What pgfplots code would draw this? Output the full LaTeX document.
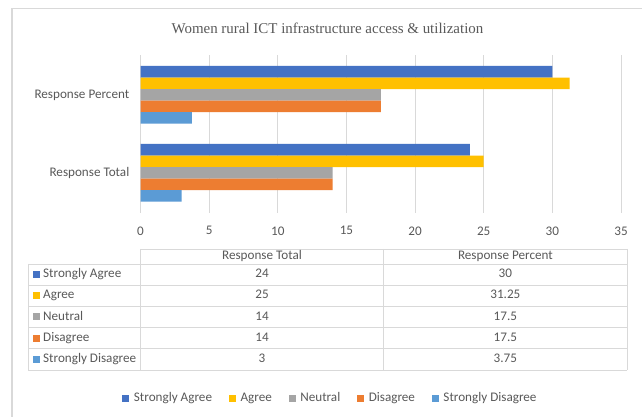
\documentclass[border=0pt]{standalone}
\usepackage{fontspec}
\setmainfont{Carlito}
\newfontfamily\titlefont{Liberation Serif}
\usepackage{pgfplots}
\pgfplotsset{compat=1.18}
\definecolor{cSA}{HTML}{4472C4}
\definecolor{cA}{HTML}{FFC000}
\definecolor{cN}{HTML}{A5A5A5}
\definecolor{cD}{HTML}{ED7D31}
\definecolor{cSD}{HTML}{5B9BD5}
\definecolor{txt}{HTML}{595959}
\definecolor{gridc}{HTML}{D9D9D9}
\begin{document}
\begin{tikzpicture}
\useasboundingbox (0bp,0bp) rectangle (642bp,417bp);
\begin{scope}[x=1bp,y=1bp]
\fill[white] (0,0) rectangle (642,417);
\draw[gridc, line width=1.2bp] (12,0) -- (12,408.5) -- (642,408.5);
\node[font=\titlefont\fontsize{15}{17}\selectfont, text=txt] at (327.5,389) {Women rural ICT infrastructure access \& utilization};
\end{scope}
\begin{axis}[
  at={(140.5bp,204bp)}, anchor=south west,
  scale only axis, width=480.5bp, height=158bp,
  xmin=0, xmax=35, ymin=-0.515, ymax=1.511,
  xtick={0,5,...,35},
  ytick={0,1}, yticklabels={Response Total, Response Percent},
  xmajorgrids, grid style={gridc, line width=0.8bp},
  axis line style={draw=none}, tick style={draw=none},
  ticklabel style={font=\fontsize{13.2}{15}\selectfont, text=txt},
  /pgf/number format/assume math mode=true,
  xticklabel style={anchor=north, yshift=-10bp},
  yticklabel style={anchor=east, xshift=-7.7bp},
  legend style={at={(0.3954,-1.171)}, anchor=center, draw=none, fill=none,
    font=\fontsize{13.2}{15}\selectfont, text=txt, legend columns=5,
    /tikz/every odd column/.append style={column sep=2.5bp},
    /tikz/every even column/.append style={column sep=15bp},
    inner sep=0pt},
  legend cell align=left,
]
\addplot[xbar, bar width=11.54bp, bar shift=23.08bp, fill=cSA, draw=none,
  legend image code/.code={\fill[cSA] (0bp,-3.5bp) rectangle (7bp,3.5bp);}]
  coordinates {(24,0) (30,1)};
\addlegendentry{Strongly Agree}
\addplot[xbar, bar width=11.54bp, bar shift=11.54bp, fill=cA, draw=none,
  legend image code/.code={\fill[cA] (0bp,-3.5bp) rectangle (7bp,3.5bp);}]
  coordinates {(25,0) (31.25,1)};
\addlegendentry{Agree}
\addplot[xbar, bar width=11.54bp, bar shift=0bp, fill=cN, draw=none,
  legend image code/.code={\fill[cN] (0bp,-3.5bp) rectangle (7bp,3.5bp);}]
  coordinates {(14,0) (17.5,1)};
\addlegendentry{Neutral}
\addplot[xbar, bar width=11.54bp, bar shift=-11.54bp, fill=cD, draw=none,
  legend image code/.code={\fill[cD] (0bp,-3.5bp) rectangle (7bp,3.5bp);}]
  coordinates {(14,0) (17.5,1)};
\addlegendentry{Disagree}
\addplot[xbar, bar width=11.54bp, bar shift=-23.08bp, fill=cSD, draw=none,
  legend image code/.code={\fill[cSD] (0bp,-3.5bp) rectangle (7bp,3.5bp);}]
  coordinates {(3,0) (3.75,1)};
\addlegendentry{Strongly Disagree}
\end{axis}
% data table
\begin{scope}[x=1bp,y=1bp]
\begin{scope}[gridc, line width=0.9bp]
\draw (140.5,168) -- (627,168);
\foreach \yy in {153,131.8,110.6,89.4,68.2,47} {\draw (28,\yy) -- (627,\yy);}
\draw (140.5,168) -- (140.5,47);
\draw (383.7,168) -- (383.7,47);
\draw (627,168) -- (627,47);
\draw (28,153) -- (28,47);
\end{scope}
\begin{scope}[every node/.style={font=\fontsize{13.2}{15}\selectfont, text=txt, inner sep=0pt, text height=8.5bp, text depth=2.5bp}]
\node at (262,160.5) {Response Total};
\node at (505.4,160.5) {Response Percent};
\foreach \yc/\lab/\col/\va/\vb in {142.4/Strongly Agree/cSA/24/30, 121.2/Agree/cA/25/31.25, 100/Neutral/cN/14/17.5, 78.8/Disagree/cD/14/17.5, 57.6/Strongly Disagree/cSD/3/3.75} {
  \fill[\col] (33,\yc-3.5) rectangle (40,\yc+3.5);
  \node[anchor=west] at (43,\yc) {\lab};
  \node at (262,\yc) {\va};
  \node at (505.4,\yc) {\vb};
}
\end{scope}
\end{scope}
\end{tikzpicture}
\end{document}
